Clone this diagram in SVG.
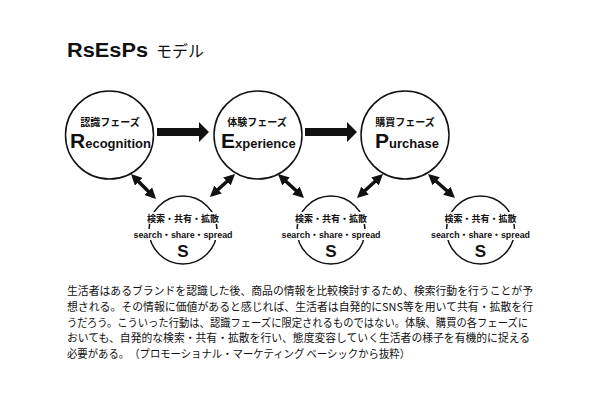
<svg xmlns="http://www.w3.org/2000/svg" width="594" height="400" viewBox="0 0 594 400">
<style>
.bg{fill:#ffffff}
.node{fill:#ffffff;stroke:#111;stroke-width:1.5}
.mask{fill:#ffffff}
.jp{font-family:"Noto Sans CJK JP","Liberation Sans",sans-serif;fill:#111}
.lat{font-family:"Liberation Sans","Noto Sans CJK JP",sans-serif;fill:#111;font-weight:bold}
.lbl{font-size:10px;font-weight:bold;text-anchor:middle}
.big{font-size:21px}
.rest{font-size:13px}
.s1{font-size:9px;font-weight:bold;text-anchor:middle}
.s2{font-size:9px;font-weight:bold;text-anchor:middle}
.sS{font-size:17px;text-anchor:middle}
.dbl{stroke:#111;stroke-width:3.5;fill:none;marker-start:url(#ah);marker-end:url(#ah)}
.fat{fill:#111}
.para{font-size:11px}
</style>
<defs>
<marker id="ah" markerUnits="userSpaceOnUse" markerWidth="11" markerHeight="11" viewBox="0 0 11 11" refX="7" refY="5.5" orient="auto-start-reverse">
<path d="M0,0 L11,5.5 L0,11 z" fill="#111"/>
</marker>
</defs>
<rect class="bg" x="0" y="0" width="594" height="400"/>

<g id="title">
<text class="lat" x="67" y="57" font-size="20" textLength="81" lengthAdjust="spacingAndGlyphs">RsEsPs</text>
<text class="jp" x="156" y="57" font-size="16">モデル</text>
</g>

<g id="connectors">
<polygon class="fat" points="157,128 199,128 199,122 209,132 199,142 199,136 157,136"/>
<polygon class="fat" points="305,128 347,128 347,122 357,132 347,142 347,136 305,136"/>
<line class="dbl" x1="133.8" y1="176.8" x2="153.2" y2="196.2"/>
<line class="dbl" x1="232.1" y1="176.7" x2="212.9" y2="194.3"/>
<line class="dbl" x1="280.9" y1="176.7" x2="301.1" y2="195.3"/>
<line class="dbl" x1="380.1" y1="176.7" x2="359.9" y2="195.3"/>
<line class="dbl" x1="431" y1="176.7" x2="452" y2="195.3"/>
</g>

<g id="recognition">
<circle class="node" cx="109.5" cy="135" r="44"/>
<text class="jp lbl" x="110" y="126">認識フェーズ</text>
<text class="lat" x="70" y="148"><tspan class="big">R</tspan><tspan class="rest">ecognition</tspan></text>
</g>

<g id="experience">
<circle class="node" cx="258" cy="135" r="44"/>
<text class="jp lbl" x="257" y="126">体験フェーズ</text>
<text class="lat" x="221" y="148"><tspan class="big">E</tspan><tspan class="rest">xperience</tspan></text>
</g>

<g id="purchase">
<circle class="node" cx="405" cy="135" r="44"/>
<text class="jp lbl" x="405" y="126">購買フェーズ</text>
<text class="lat" x="375" y="148"><tspan class="big">P</tspan><tspan class="rest">urchase</tspan></text>
</g>

<g id="s-1">
<circle class="node" cx="183" cy="230" r="34"/>
<rect class="mask" x="145" y="212" width="76" height="12"/>
<rect class="mask" x="133" y="229" width="100" height="11"/>
<text class="jp s1" x="183" y="221.5">検索・共有・拡散</text>
<text class="lat s2" x="183" y="238" textLength="99" lengthAdjust="spacingAndGlyphs">search・share・spread</text>
<text class="lat sS" x="183" y="257">S</text>
</g>

<g id="s-2">
<circle class="node" cx="331" cy="230" r="34"/>
<rect class="mask" x="293" y="212" width="76" height="12"/>
<rect class="mask" x="281" y="229" width="100" height="11"/>
<text class="jp s1" x="331" y="221.5">検索・共有・拡散</text>
<text class="lat s2" x="331" y="238" textLength="99" lengthAdjust="spacingAndGlyphs">search・share・spread</text>
<text class="lat sS" x="331" y="257">S</text>
</g>

<g id="s-3">
<circle class="node" cx="480.5" cy="230" r="34"/>
<rect class="mask" x="442.5" y="212" width="76" height="12"/>
<rect class="mask" x="430.5" y="229" width="100" height="11"/>
<text class="jp s1" x="480.5" y="221.5">検索・共有・拡散</text>
<text class="lat s2" x="480.5" y="238" textLength="99" lengthAdjust="spacingAndGlyphs">search・share・spread</text>
<text class="lat sS" x="480.5" y="257">S</text>
</g>

<g id="paragraph" class="jp para">
<text x="67" y="294.5" textLength="466" lengthAdjust="spacingAndGlyphs">生活者はあるブランドを認識した後、商品の情報を比較検討するため、検索行動を行うことが予</text>
<text x="67" y="310.5" textLength="466" lengthAdjust="spacingAndGlyphs">想される。その情報に価値があると感じれば、生活者は自発的にSNS等を用いて共有・拡散を行</text>
<text x="67" y="326.5" textLength="461" lengthAdjust="spacingAndGlyphs">うだろう。こういった行動は、認識フェーズに限定されるものではない。体験、購買の各フェーズに</text>
<text x="67" y="342" textLength="463" lengthAdjust="spacingAndGlyphs">おいても、自発的な検索・共有・拡散を行い、態度変容していく生活者の様子を有機的に捉える</text>
<text x="67" y="357.5" textLength="343" lengthAdjust="spacingAndGlyphs">必要がある。　（プロモーショナル・マーケティング ベーシックから抜粋）</text>
</g>
</svg>
